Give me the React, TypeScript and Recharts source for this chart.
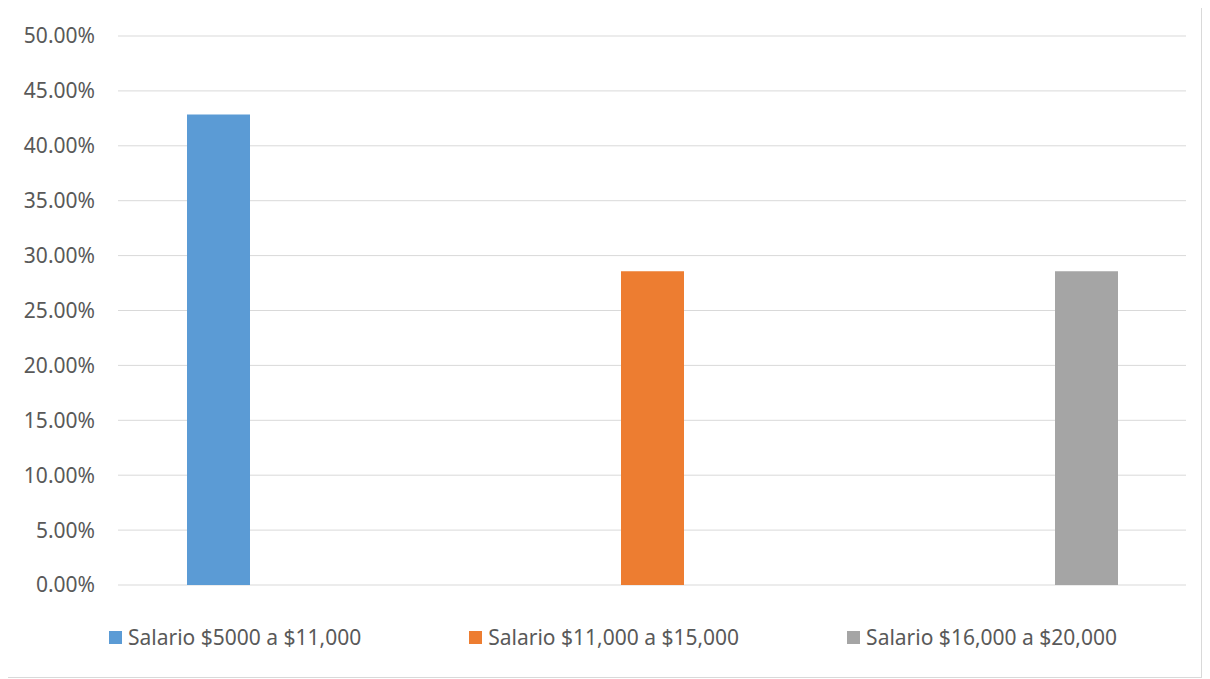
import { BarChart, Bar, XAxis, YAxis, CartesianGrid, Legend } from 'recharts';

const categories = ['g1', 'g2', 'g3'];
const seriesNames = ['Salario $5000 a $11,000', 'Salario $11,000 a $15,000', 'Salario $16,000 a $20,000'];
const seriesValues = [0.4286, 0.2857, 0.2857];
const seriesColors = ['#5b9bd5', '#ed7d31', '#a5a5a5'];
const yTicks = [0, 0.05, 0.1, 0.15, 0.2, 0.25, 0.3, 0.35, 0.4, 0.45, 0.5];

// each series only has a value in its own category (Excel style layout)
const data = categories.map((cat, i) => {
  const row: Record<string, string | number | null> = { cat };
  seriesNames.forEach((name, j) => {
    row[name] = i === j ? seriesValues[j] : null;
  });
  return row;
});

const FONT = '"Noto Sans", "Open Sans", sans-serif';

function LegendRow() {
  return (
    <div
      style={{
        display: 'flex',
        justifyContent: 'center',
        gap: 108,
        height: 30,
        alignItems: 'center',
        paddingLeft: 32,
        fontFamily: FONT,
      }}
    >
      {seriesNames.map((name, i) => (
        <div key={name} style={{ display: 'flex', alignItems: 'center' }}>
          <span style={{ width: 13, height: 13, background: seriesColors[i], marginRight: 6, display: 'inline-block' }} />
          <span style={{ fontSize: 21, color: '#595959' }}>{name}</span>
        </div>
      ))}
    </div>
  );
}

export default function App() {
  return (
    <div
      style={{
        width: 1195,
        height: 672,
        border: '1px solid #d9d9d9',
        margin: '-2px 0 0 -1px',
        boxSizing: 'border-box',
        background: '#fff',
      }}
    >
      <BarChart
        width={1193}
        height={670}
        data={data}
        margin={{ top: 29, right: 15, left: 0, bottom: 62 }}
        barSize={63}
        barGap={15}
      >
        <CartesianGrid vertical={false} stroke="#d9d9d9" />
        <XAxis dataKey="cat" hide />
        <YAxis
          width={110}
          domain={[0, 0.5]}
          ticks={yTicks}
          axisLine={false}
          tickLine={false}
          tickSize={0}
          tickMargin={23}
          tickFormatter={(v: number) => (v * 100).toFixed(2) + '%'}
          tick={{ fill: '#595959', fontSize: 21, fontFamily: FONT }}
        />
        <Legend verticalAlign="bottom" content={() => <LegendRow />} wrapperStyle={{ bottom: 25 }} />
        {seriesNames.map((name, i) => (
          <Bar key={name} dataKey={name} fill={seriesColors[i]} isAnimationActive={false} />
        ))}
      </BarChart>
    </div>
  );
}
